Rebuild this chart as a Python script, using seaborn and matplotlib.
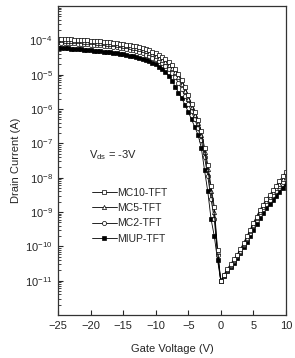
import numpy as np
import pandas as pd
import seaborn as sns
import matplotlib.pyplot as plt
from matplotlib.ticker import FixedLocator, LogLocator, NullFormatter

# gate voltage sweep (V), 0.5 V steps
vg = np.arange(-25, 10.01, 0.5)

# log10 of drain current (A)
mc10 = [-3.96, -3.96, -3.965, -3.97, -3.97, -3.98, -3.985, -3.99, -4.00, -4.00,
        -4.01, -4.02, -4.025, -4.03, -4.04, -4.05, -4.06, -4.07, -4.08, -4.09,
        -4.10, -4.12, -4.13, -4.15, -4.17, -4.20, -4.22, -4.25, -4.29, -4.33,
        -4.38, -4.43, -4.48, -4.55, -4.62, -4.71, -4.82, -4.97, -5.15, -5.36,
        -5.60, -5.85, -6.08, -6.32, -6.65, -7.12, -7.62, -8.25, -8.85, -10.1,
        -11.0,
        -10.82, -10.66, -10.52, -10.38, -10.24, -10.09, -9.90, -9.71, -9.52, -9.32,
        -9.13, -8.94, -8.78, -8.63, -8.50, -8.37, -8.23, -8.10, -7.96, -7.82]
mc5 = [-4.00, -4.00, -4.005, -4.01, -4.015, -4.02, -4.025, -4.03, -4.04, -4.045,
       -4.05, -4.06, -4.065, -4.075, -4.085, -4.095, -4.105, -4.115, -4.125, -4.14,
       -4.155, -4.17, -4.19, -4.21, -4.23, -4.26, -4.29, -4.32, -4.36, -4.40,
       -4.45, -4.50, -4.56, -4.63, -4.71, -4.81, -4.93, -5.08, -5.26, -5.47,
       -5.70, -5.94, -6.17, -6.42, -6.76, -7.24, -7.76, -8.40, -9.00, -10.15,
       -11.02,
       -10.83, -10.68, -10.54, -10.40, -10.26, -10.12, -9.94, -9.75, -9.56, -9.37,
       -9.18, -8.99, -8.84, -8.69, -8.56, -8.43, -8.30, -8.17, -8.03, -7.89]
mc2 = [-4.06, -4.065, -4.07, -4.075, -4.08, -4.085, -4.09, -4.10, -4.105, -4.11,
       -4.12, -4.13, -4.135, -4.145, -4.155, -4.165, -4.175, -4.19, -4.20, -4.215,
       -4.23, -4.25, -4.27, -4.29, -4.32, -4.35, -4.38, -4.42, -4.46, -4.50,
       -4.55, -4.61, -4.67, -4.75, -4.84, -4.95, -5.08, -5.24, -5.42, -5.62,
       -5.84, -6.07, -6.30, -6.55, -6.90, -7.40, -7.95, -8.62, -9.20, -10.25,
       -11.02,
       -10.84, -10.69, -10.56, -10.42, -10.29, -10.15, -9.97, -9.79, -9.61, -9.42,
       -9.24, -9.06, -8.91, -8.77, -8.64, -8.51, -8.38, -8.25, -8.12, -7.98]
miup = [-4.22, -4.225, -4.23, -4.235, -4.24, -4.25, -4.255, -4.26, -4.27, -4.28,
        -4.29, -4.30, -4.31, -4.32, -4.33, -4.34, -4.35, -4.36, -4.37, -4.385,
        -4.40, -4.42, -4.44, -4.46, -4.48, -4.51, -4.54, -4.57, -4.61, -4.65,
        -4.70, -4.76, -4.83, -4.92, -5.03, -5.17, -5.35, -5.52, -5.68, -5.88,
        -6.08, -6.30, -6.52, -6.75, -7.12, -7.78, -8.40, -9.20, -9.70, -10.40,
        -11.0,
        -10.86, -10.72, -10.60, -10.47, -10.34, -10.20, -10.03, -9.86, -9.69, -9.52,
        -9.35, -9.18, -9.03, -8.89, -8.77, -8.65, -8.53, -8.41, -8.29, -8.17]

devices = ['MC10-TFT', 'MC5-TFT', 'MC2-TFT', 'MIUP-TFT']
curves = [mc10, mc5, mc2, miup]
x_ticks = [-25, -20, -15, -10, -5, 0, 5, 10]
y_ticks = [1e-11, 1e-10, 1e-9, 1e-8, 1e-7, 1e-6, 1e-5, 1e-4]

sns.set_style('ticks')
plt.rcParams['font.family'] = ['Liberation Sans', 'DejaVu Sans']
plt.rcParams['mathtext.fontset'] = 'custom'
plt.rcParams['mathtext.rm'] = 'Liberation Sans'
plt.rcParams['mathtext.it'] = 'Liberation Sans'

fig = plt.figure(figsize=(2.95, 3.58), dpi=100)
ax = fig.add_axes([0.197, 0.120, 0.772, 0.863])

styles = {
    'MC10-TFT': dict(marker='s', mfc='white'),
    'MC5-TFT': dict(marker='^', mfc='white'),
    'MC2-TFT': dict(marker='o', mfc='white'),
    'MIUP-TFT': dict(marker='s', mfc='black'),
}

# draw the filled series first so the open ones sit on top
for name, vals in reversed(list(zip(devices, curves))):
    df = pd.DataFrame({'Vg': vg, 'Id': 10.0 ** np.array(vals)})
    sns.lineplot(data=df, x='Vg', y='Id', ax=ax, color='black', lw=0.6,
                 ms=3.0, mec='black', mew=0.5, label=name, **styles[name])

ax.set_yscale('log')
ax.set_xlim(-25, 10)
ax.set_ylim(1e-12, 1e-3)
ax.xaxis.set_major_locator(FixedLocator(x_ticks))
ax.yaxis.set_major_locator(FixedLocator(y_ticks))
ax.yaxis.set_minor_locator(LogLocator(base=10, subs=np.arange(2, 10)))
ax.yaxis.set_minor_formatter(NullFormatter())
ax.tick_params(axis='both', which='major', direction='in', length=3.5, width=0.8,
               labelsize=8, pad=4)
ax.tick_params(axis='y', which='minor', direction='in', length=2, width=0.6)
for s in ax.spines.values():
    s.set_linewidth(0.9)
    s.set_color('#333333')

ax.set_xlabel('Gate Voltage (V)', fontsize=8, labelpad=10)
ax.set_ylabel('Drain Current (A)', fontsize=8, labelpad=3)

ax.text(-20.2, 4.6e-8, r'V$_{\mathregular{ds}}$ = -3V', fontsize=8, va='center')

handles, labels = ax.get_legend_handles_labels()
order = [labels.index(d) for d in devices]
ax.legend([handles[i] for i in order], [labels[i] for i in order],
          loc='upper left', bbox_to_anchor=(0.13, 0.425), frameon=False,
          fontsize=7.5, handlelength=2.4, handletextpad=0.0,
          labelspacing=0.5, borderaxespad=0)

fig.savefig('out.png', dpi=100)
